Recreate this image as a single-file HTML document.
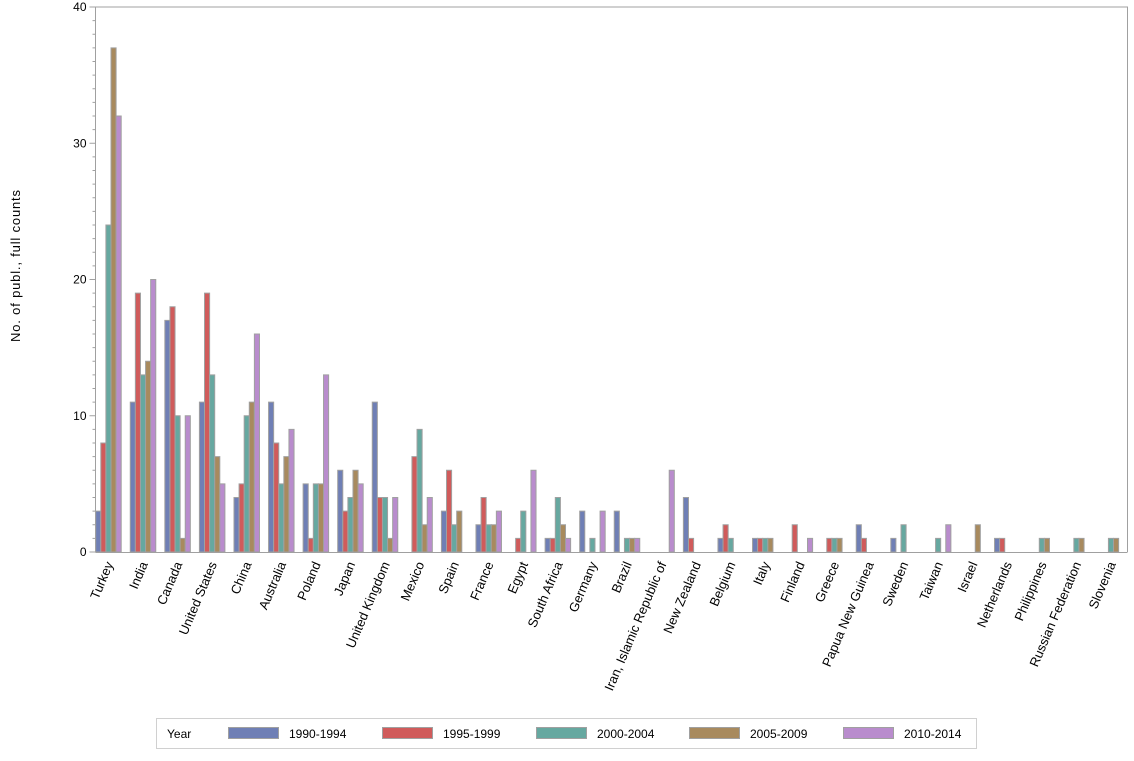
<!DOCTYPE html>
<html><head><meta charset="utf-8"><style>
body{margin:0;background:#fff;}
svg text{font-family:"Liberation Sans",Arial,sans-serif;fill:#000;}
</style></head><body>
<svg id="chart" width="1134" height="756" xmlns="http://www.w3.org/2000/svg">
<g id="plot"></g>
<text transform="translate(20,266) rotate(-90)" text-anchor="middle" font-size="13" textLength="152" lengthAdjust="spacing">No. of publ., full counts</text>
<g>
<rect x="156.5" y="718.5" width="820" height="30" fill="#fff" stroke="#d0d0d0"/>
<text x="167" y="738" font-size="12">Year</text>
<g id="legend-items"></g>
</g>
</svg>
<script>
const categories = ["Turkey","India","Canada","United States","China","Australia","Poland","Japan","United Kingdom","Mexico","Spain","France","Egypt","South Africa","Germany","Brazil","Iran, Islamic Republic of","New Zealand","Belgium","Italy","Finland","Greece","Papua New Guinea","Sweden","Taiwan","Israel","Netherlands","Philippines","Russian Federation","Slovenia"];
const seriesNames = ["1990-1994","1995-1999","2000-2004","2005-2009","2010-2014"];
const s1990 = [3,11,17,11,4,11,5,6,11,0,3,2,0,1,3,3,0,4,1,1,0,0,2,1,0,0,1,0,0,0];
const s1995 = [8,19,18,19,5,8,1,3,4,7,6,4,1,1,0,0,0,1,2,1,2,1,1,0,0,0,1,0,0,0];
const s2000 = [24,13,10,13,10,5,5,4,4,9,2,2,3,4,1,1,0,0,1,1,0,1,0,2,1,0,0,1,1,1];
const s2005 = [37,14,1,7,11,7,5,6,1,2,3,2,0,2,0,1,0,0,0,1,0,1,0,0,0,2,0,1,1,1];
const s2010 = [32,20,10,5,16,9,13,5,4,4,0,3,6,1,3,1,6,0,0,0,1,0,0,0,2,0,0,0,0,0];
const yTicks = [0,10,20,30,40];
const colors = ["#6f7fb5","#d05b5b","#66a8a0","#a88a5e","#b98ccd"];
const series = [s1990,s1995,s2000,s2005,s2010];
const NS="http://www.w3.org/2000/svg";
const X0=95.5, X1=1127.5, Y0=552, Y1=7, YMAX=40;
const band=34.57, bw=5.1, gStart=95.7;
const y = v => Y0 - v*(Y0-Y1)/YMAX;
const plot=document.getElementById('plot');
function mk(t,a){const e=document.createElementNS(NS,t);for(const k in a)e.setAttribute(k,a[k]);return e;}
const frame=mk('path',{d:`M${X0},${Y1} L${X1},${Y1} L${X1},${Y0}`,fill:'none',stroke:'#a0a0a0'});


plot.appendChild(frame);
for(let v=0;v<=YMAX;v++){
  const len = v%10===0?6:3;
  const t=mk('line',{x1:X0-len,x2:X0,y1:y(v),y2:y(v),stroke:'#a0a0a0'});
  
  
  plot.appendChild(t);
}
yTicks.forEach(v=>{
  const t=mk('text',{x:X0-9,y:y(v)+4,'text-anchor':'end','font-size':'12'});
  t.textContent=v;
  
  
  plot.appendChild(t);
});
categories.forEach((c,i)=>{
  const gx=gStart+i*band;
  series.forEach((s,j)=>{
    const v=s[i]; if(!v) return;
    const r=mk('rect',{x:gx+j*bw,y:y(v),width:bw,height:Y0-y(v),fill:colors[j],stroke:'#a0a0a0','stroke-width':'1'});
    
    
    plot.appendChild(r);
  });
  const cx=gx+12.8+5;
  const t=mk('text',{transform:`translate(${cx},564) rotate(-67)`,'text-anchor':'end','font-size':'13'});
  t.textContent=c;
  
  
  plot.appendChild(t);
});
const xa=mk('line',{x1:X0,x2:X1,y1:Y0+0.5,y2:Y0+0.5,stroke:'#a0a0a0'});


plot.appendChild(xa);
const ya=mk('line',{x1:X0,x2:X0,y1:Y1,y2:Y0,stroke:'#a0a0a0'});


plot.appendChild(ya);
const li=document.getElementById('legend-items');
const lx=[228,382,536,689,843];
seriesNames.forEach((n,j)=>{
  const g=mk('g',{});
  
  
  g.appendChild(mk('rect',{x:lx[j]+0.5,y:727.5,width:50,height:11,fill:colors[j],stroke:'#a0a0a0'}));
  const t=mk('text',{x:lx[j]+61,y:738,'font-size':'12'});
  t.textContent=n;
  g.appendChild(t);
  li.appendChild(g);
});
</script>
</body></html>
